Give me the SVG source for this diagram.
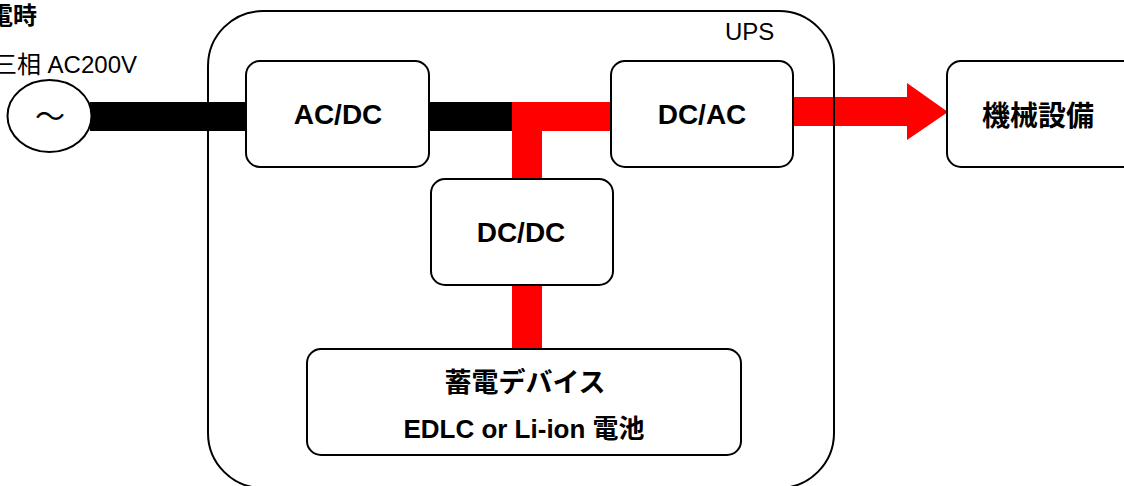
<svg xmlns="http://www.w3.org/2000/svg" width="1124" height="486" viewBox="0 0 1124 486">
<style>
.box{fill:#fff;stroke:#000;stroke-width:2}
.frame{fill:none;stroke:#000;stroke-width:2}
.lbl{font-family:"Liberation Sans","Noto Sans CJK JP",sans-serif;font-weight:bold;fill:#000;text-anchor:middle}
.plain{font-family:"Liberation Sans","Noto Sans CJK JP",sans-serif;fill:#000}
.blk{fill:#000}
.red{fill:#ff0000}
</style>
<rect width="1124" height="486" fill="#fff"/>
<g id="title">
<text class="plain" x="37" y="24" font-size="24" font-weight="bold" text-anchor="end">通電時</text>
<text class="plain" x="137" y="73" font-size="24" text-anchor="end">三相 AC200V</text>
</g>
<g id="connectors">
<rect class="blk" x="90" y="102" width="157" height="29"/>
<rect class="blk" x="428" y="102" width="85" height="29"/>
<rect class="red" x="512" y="102" width="100" height="29"/>
<rect class="red" x="512" y="102" width="30" height="77"/>
<rect class="red" x="512" y="284" width="30" height="66"/>
<polygon class="red" points="792,97 907,97 907,83 948,112 907,140 907,126 792,126"/>
</g>
<g id="ups">
<rect class="frame" x="208" y="11" width="626" height="477" rx="55" ry="55"/>
<text class="plain" x="725" y="40" font-size="24">UPS</text>
</g>
<g id="source">
<ellipse class="box" cx="49.5" cy="116" rx="42" ry="36"/>
<text class="plain" x="50" y="127" font-size="30" text-anchor="middle">～</text>
</g>
<g id="acdc">
<rect class="box" x="246" y="61" width="183" height="106" rx="14"/>
<text class="lbl" x="338" y="124" font-size="28">AC/DC</text>
</g>
<g id="dcac">
<rect class="box" x="611" y="61" width="182" height="106" rx="14"/>
<text class="lbl" x="702" y="124" font-size="28">DC/AC</text>
</g>
<g id="dcdc">
<rect class="box" x="431" y="179" width="182" height="106" rx="14"/>
<text class="lbl" x="521" y="242" font-size="28">DC/DC</text>
</g>
<g id="storage">
<rect class="box" x="307" y="349" width="434" height="106" rx="14"/>
<text class="lbl" x="525" y="392" font-size="27">蓄電デバイス</text>
<text class="lbl" x="524" y="438" font-size="26">EDLC or Li-ion 電池</text>
</g>
<g id="equipment">
<rect class="box" x="947" y="61" width="190" height="106" rx="14"/>
<text class="lbl" x="1038" y="126" font-size="28">機械設備</text>
</g>
</svg>
